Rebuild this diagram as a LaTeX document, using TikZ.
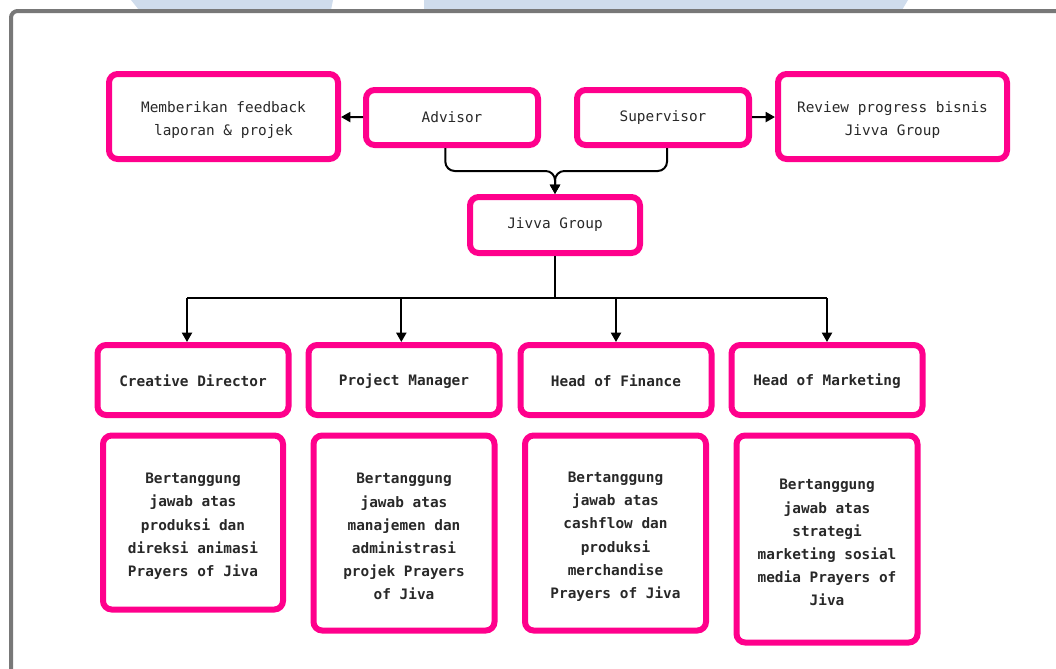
\documentclass[tikz,border=0pt]{standalone}
\usepackage{fontspec}
\setmonofont{DejaVu Sans Mono}
\usetikzlibrary{arrows.meta}

\definecolor{jpink}{RGB}{255,0,140}
\definecolor{jtext}{RGB}{40,40,40}
\definecolor{jframe}{RGB}{120,120,120}
\definecolor{jmark}{RGB}{207,220,236}

% a taller first line moves the text of a box a little down
\newcommand{\firstline}{\rule{0pt}{13.5pt}}

\tikzset{
  box/.style={draw=jpink, line width=4.5pt, rounded corners=6.5pt, align=center,
    text=jtext, inner sep=0pt, font=\ttfamily\fontsize{10.8}{17.3}\selectfont},
  boldbox/.style={box, font=\ttfamily\bfseries\fontsize{10.8}{17.4}\selectfont},
  line/.style={draw=black, line width=1.5pt},
  arrow/.style={line, -{Triangle[length=7pt,width=7.5pt]}}
}

\begin{document}
\begin{tikzpicture}[x=0.75pt, y=-0.75pt]
                \useasboundingbox (0,0) rectangle (1056,668);
                \clip (0,0) rectangle (1056,668);
                % faint marks at the top edge and the frame
                \fill[jmark] (131,0) -- (333,0) -- (331,10) -- (139,10) -- cycle;
                \fill[jmark] (424,0) -- (908,0) -- (902,10) -- (424,10) -- cycle;
                \draw[jframe, line width=3pt, rounded corners=5pt] (11,11) rectangle (1080,700);

                % top row
                \node[box, minimum width=171.75pt, minimum height=63.75pt] (fb) at (223.5,116.5) {\firstline Memberikan feedback\\laporan \& projek};
                \node[box, minimum width=129pt, minimum height=41.25pt] (adv) at (452,117.5) {Advisor};
                \node[box, minimum width=129pt, minimum height=41.25pt] (sup) at (663,117.5) {Supervisor};
                \node[box, minimum width=171.75pt, minimum height=63.75pt] (rev) at (892.5,116.5) {\firstline Review progress bisnis\\Jivva Group};
                \draw[arrow] (adv) -- (fb);
                \draw[arrow] (sup) -- (rev);

                \node[box, minimum width=127.5pt, minimum height=42pt] (jg) at (555,225) {Jivva Group};
                \coordinate (merge) at (555,171);
                \draw[arrow, rounded corners=7pt] ([xshift=-5pt]adv.south) |- (merge) -- (jg.north);
                \draw[arrow, rounded corners=7pt] ([xshift=3pt]sup.south) |- (merge) -- (jg.north);

                % roles
                \node[boldbox, minimum width=143.25pt, minimum height=52.5pt] (cd) at (193,380) {\rule{0pt}{10pt}Creative Director};
                \node[boldbox, minimum width=143.25pt, minimum height=52.5pt] (pm) at (404,380) {\rule{0pt}{10pt}Project Manager};
                \node[boldbox, minimum width=143.25pt, minimum height=52.5pt] (hf) at (616,380) {\rule{0pt}{10pt}Head of Finance};
                \node[boldbox, minimum width=143.25pt, minimum height=52.5pt] (hm) at (827,380) {\rule{0pt}{10pt}Head of Marketing};

                \coordinate (split) at (555,298);
                \draw[line] (jg.south) -- (split);
                \draw[line] ([xshift=-4.5pt]cd.north |- split) -- (hm.north |- split);
                \draw[arrow] ([xshift=-4.5pt]cd.north |- split) -- ([xshift=-4.5pt]cd.north);
                \draw[arrow] ([xshift=-2pt]pm.north |- split) -- ([xshift=-2pt]pm.north);
                \draw[arrow] (hf.north |- split) -- (hf.north);
                \draw[arrow] (hm.north |- split) -- (hm.north);

                % descriptions
                \node[boldbox, minimum width=135pt, minimum height=130.5pt] (dcd) at (193,522.5) {\firstline Bertanggung\\jawab atas\\produksi dan\\direksi animasi\\Prayers of Jiva};
                \node[boldbox, minimum width=135.75pt, minimum height=146.25pt] (dpm) at (404,533) {\firstline Bertanggung\\jawab atas\\manajemen dan\\administrasi\\projek Prayers\\of Jiva};
                \node[boldbox, minimum width=135.75pt, minimum height=146.25pt] (dhf) at (615.5,533) {\firstline Bertanggung\\jawab atas\\cashflow dan\\produksi\\merchandise\\Prayers of Jiva};
                \node[boldbox, minimum width=135.75pt, minimum height=155.25pt] (dhm) at (827,539) {\firstline Bertanggung\\jawab atas\\strategi\\marketing sosial\\media Prayers of\\Jiva};
                \end{tikzpicture}
\end{document}
